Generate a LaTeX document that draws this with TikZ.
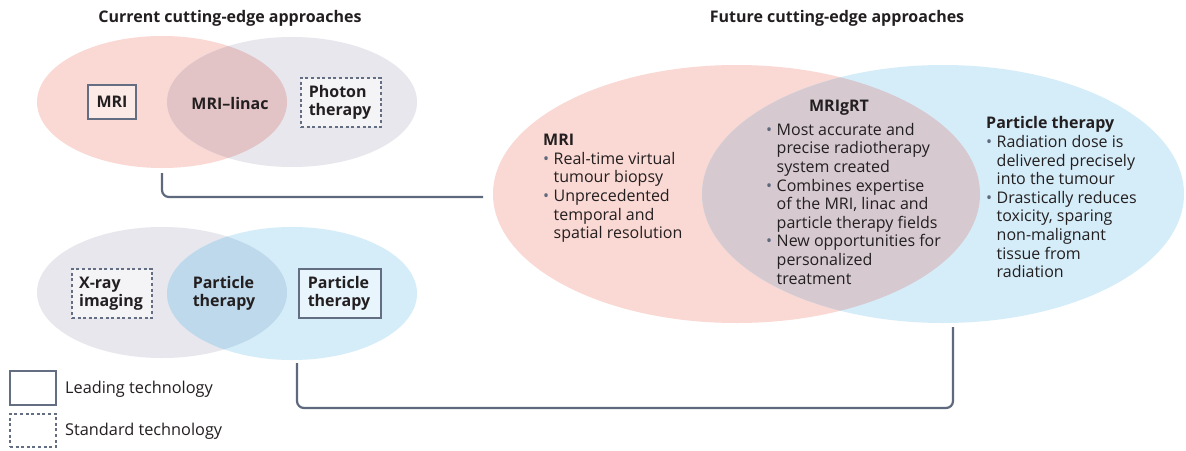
\documentclass[tikz,border=0pt]{standalone}
\usepackage{fontspec}
\setmainfont{Open Sans}
\usetikzlibrary{shapes.geometric,calc}

\definecolor{pinkc}{RGB}{250,216,211}
\definecolor{grayc}{RGB}{231,231,237}
\definecolor{bluec}{RGB}{213,237,249}
\definecolor{pinkgray}{RGB}{226,195,198}
\definecolor{grayblue}{RGB}{190,217,235}
\definecolor{mauve}{RGB}{214,201,208}
\definecolor{boxc}{RGB}{100,110,130}
\definecolor{connc}{RGB}{95,105,125}
\definecolor{txt}{RGB}{35,31,32}
\definecolor{bulc}{RGB}{95,105,125}

\newcommand\bitem{\makebox[10.5pt][l]{\textcolor{bulc}{\textbullet}}}
\newcommand\bindent{\hspace*{10.5pt}}

\tikzset{
  venn/.style={ellipse, draw=none, inner sep=0pt, outer sep=0pt},
  title/.style={font=\fontsize{16}{18}\selectfont\bfseries, text=txt, inner sep=0pt},
  lbl/.style={font=\fontsize{16}{17.5}\selectfont\bfseries, text=txt, align=left, inner sep=0pt},
  leadbox/.style={draw=boxc, line width=1.3pt, inner sep=0pt},
  stdbox/.style={draw=boxc, line width=1.3pt, dash pattern=on 3pt off 2.6pt, inner sep=0pt},
  body/.style={font=\fontsize{16}{18.6}\selectfont, text=txt, align=left, inner sep=0pt},
  head/.style={font=\fontsize{16}{18.6}\selectfont\bfseries, text=txt, inner sep=0pt},
  legend/.style={font=\fontsize{16.3}{18}\selectfont, text=txt, inner sep=0pt, anchor=west},
  conn/.style={draw=connc, line width=2.2pt, rounded corners=7pt},
}

\begin{document}
\begin{tikzpicture}[x=1pt, y=-1pt]
\useasboundingbox (0,0) rectangle (1186,450);
\fill[white] (0,0) rectangle (1186,450);

% ---- headings
\node[title] (tcur) at (230,18) {Current cutting-edge approaches};
\node[title] (tfut) at (837,18) {Future cutting-edge approaches};

% ---- current: MRI and photon therapy
\node[venn, fill=pinkc, minimum width=250pt, minimum height=132pt] (tlP) at (162,102) {};
\node[venn, fill=grayc, minimum width=250pt, minimum height=130pt] (tlG) at (292,102) {};
\begin{scope}
  \clip (162,102) ellipse [x radius=125, y radius=66];
  \fill[pinkgray] (292,102) ellipse [x radius=125, y radius=65];
\end{scope}
\node[leadbox, fill=pinkc!55!white, minimum width=48pt, minimum height=34pt] (bMRI) at (112,102) {};
\node[lbl] (lMRI) at (112,102) {MRI};
\node[lbl] (lMRIlinac) at (230,103) {MRI--linac};
\node[stdbox, fill=grayc!45!white, minimum width=80pt, minimum height=49pt] (bPhoton) at (341,102.5) {};
\node[lbl] (lPhoton) at (340,102.5) {Photon\\therapy};

% ---- current: X-ray and particle therapy
\node[venn, fill=grayc, minimum width=250pt, minimum height=131pt] (blG) at (162,292.5) {};
\node[venn, fill=bluec, minimum width=250pt, minimum height=133pt] (blB) at (292,293.5) {};
\begin{scope}
  \clip (162,292.5) ellipse [x radius=125, y radius=65.5];
  \fill[grayblue] (292,293.5) ellipse [x radius=125, y radius=66.5];
\end{scope}
\node[stdbox, fill=grayc!45!white, minimum width=80pt, minimum height=49pt] (bXray) at (112,293.5) {};
\node[lbl] (lXray) at (111,293.5) {X-ray\\imaging};
\node[lbl] (lPTmid) at (224,293.5) {Particle\\therapy};
\node[leadbox, fill=bluec!55!white, minimum width=82pt, minimum height=49pt] (bPT) at (340,293.5) {};
\node[lbl] (lPT) at (339,293.5) {Particle\\therapy};

% ---- future: MRIgRT
\node[venn, fill=pinkc, minimum width=487pt, minimum height=258pt] (bigP) at (736.5,194) {};
\node[venn, fill=bluec, minimum width=482pt, minimum height=258pt] (bigB) at (943,194) {};
\begin{scope}
  \clip (736.5,194) ellipse [x radius=243.5, y radius=129];
  \fill[mauve] (943,194) ellipse [x radius=241, y radius=129];
\end{scope}

\node[body, anchor=north west] (tMRI) at (543,134) {%
  \textbf{MRI}\\
  \bitem Real-time virtual\\
  \bindent tumour biopsy\\
  \bitem Unprecedented\\
  \bindent temporal and\\
  \bindent spatial resolution};

\node[head] (hMRIgRT) at (839,108) {MRIgRT};
\node[body, anchor=north west] (tMRIgRT) at (766,123) {%
  \bitem Most accurate and\\
  \bindent precise radiotherapy\\
  \bindent system created\\
  \bitem Combines expertise\\
  \bindent of the MRI, linac and\\
  \bindent particle therapy fields\\
  \bitem New opportunities for\\
  \bindent personalized\\
  \bindent treatment};

\node[body, anchor=north west] (tPT) at (986,116.5) {%
  \textbf{Particle therapy}\\
  \bitem Radiation dose is\\
  \bindent delivered precisely\\
  \bindent into the tumour\\
  \bitem Drastically reduces\\
  \bindent toxicity, sparing\\
  \bindent non-malignant\\
  \bindent tissue from\\
  \bindent radiation};

% ---- connectors
\draw[conn] ([yshift=-5pt]tlP.south) |- ([xshift=-10pt,yshift=-3pt]bigP.west);
\coordinate (jn) at (953,408);
\draw[conn] ([xshift=5pt,yshift=-3pt]blB.south) |- (jn) -- ([xshift=10pt,yshift=-4pt]bigB.south);

% ---- legend
\node[leadbox, minimum width=46pt, minimum height=34pt] (kLead) at (33,388) {};
\node[legend] (kLeadT) at (65,389) {Leading technology};
\node[stdbox, minimum width=46pt, minimum height=33pt] (kStd) at (33,430.5) {};
\node[legend] (kStdT) at (65,431) {Standard technology};
\end{tikzpicture}
\end{document}
